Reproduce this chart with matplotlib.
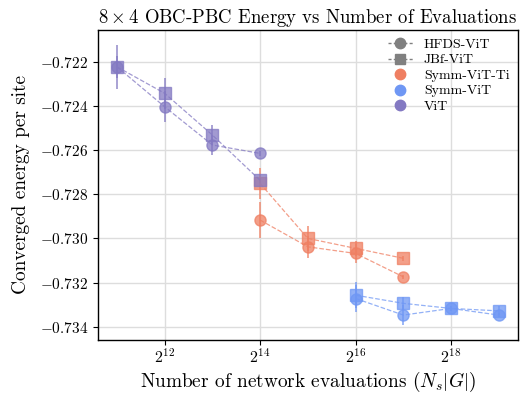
import matplotlib
matplotlib.use("Agg")
import matplotlib.pyplot as plt
from matplotlib.lines import Line2D
from matplotlib.ticker import FuncFormatter, FixedLocator
import numpy as np

plt.rcParams['font.family'] = 'serif'
plt.rcParams['font.serif'] = ['cmr10']
plt.rcParams['mathtext.fontset'] = 'cm'
plt.rcParams['axes.unicode_minus'] = False
plt.rcParams['axes.formatter.use_mathtext'] = True

# data: x given as exponents of 2
models = ["ViT", "Symm-ViT-Ti", "Symm-ViT"]
colors = {"ViT": "#8379c2", "Symm-ViT-Ti": "#ef7f62", "Symm-ViT": "#6f97f4"}
exps = {"ViT": [11, 12, 13, 14], "Symm-ViT-Ti": [14, 15, 16, 17], "Symm-ViT": [16, 17, 18, 19]}

hfds_E = {"ViT": [-0.72223, -0.72404, -0.72577, -0.72615],
          "Symm-ViT-Ti": [-0.72917, -0.73038, -0.73068, -0.73174],
          "Symm-ViT": [-0.73272, -0.73347, -0.73317, -0.73347]}
hfds_err = {"ViT": [0.0010, 0.0007, 0.00045, 0.0001],
            "Symm-ViT-Ti": [0.0008, 0.0005, 0.00045, 0.0001],
            "Symm-ViT": [0.0006, 0.00045, 0.0001, 0.0001]}
jbf_E = {"ViT": [-0.72223, -0.72343, -0.72532, -0.72737],
         "Symm-ViT-Ti": [-0.72751, -0.73000, -0.73045, -0.73090],
         "Symm-ViT": [-0.73257, -0.73294, -0.73317, -0.73328]}
jbf_err = {"ViT": [0.0005, 0.0007, 0.00045, 0.0001],
           "Symm-ViT-Ti": [0.0007, 0.00055, 0.00035, 0.0001],
           "Symm-ViT": [0.0006, 0.0003, 0.0001, 0.0002]}

fig = plt.figure(figsize=(5.29, 3.94), dpi=100)
ax = fig.add_axes([0.185, 0.137, 0.794, 0.787])

for m in ["Symm-ViT-Ti", "Symm-ViT", "ViT"]:
    x = 2.0 ** np.array(exps[m])
    c = colors[m]
    ax.errorbar(x, hfds_E[m], yerr=hfds_err[m], fmt='o', ls='--', lw=0.9, color=c,
                alpha=0.75, ms=8, elinewidth=1.3, capsize=0, zorder=3)
    ax.errorbar(x, jbf_E[m], yerr=jbf_err[m], fmt='s', ls='--', lw=0.9, color=c,
                alpha=0.75, ms=8, elinewidth=1.3, capsize=0, zorder=3)

ax.set_xscale('log', base=2)
ax.xaxis.set_major_locator(FixedLocator([2**12, 2**14, 2**16, 2**18]))
ax.xaxis.set_major_formatter(FuncFormatter(lambda v, p: r"$2^{%d}$" % round(np.log2(v))))
ax.xaxis.set_minor_locator(FixedLocator([]))
ax.set_yticks(np.arange(-0.734, -0.7215, 0.002))
ax.yaxis.set_major_formatter(FuncFormatter(lambda v, p: r"$%.3f$" % v))
ax.set_ylim(-0.7346, -0.72056)
ax.grid(True, color='#dddddd', lw=1.0)
ax.set_axisbelow(True)
ax.tick_params(labelsize=11)
ax.tick_params(axis='x', pad=2, labelsize=11.5)
for s in ax.spines.values():
    s.set_linewidth(1.0)

ax.set_title(r"$8\times4$ OBC-PBC Energy vs Number of Evaluations", fontsize=13.5, pad=5)
ax.set_xlabel(r"Number of network evaluations ($N_s|G|$)", fontsize=13.9, labelpad=3)
ax.set_ylabel("Converged energy per site", fontsize=13.9, labelpad=7)

handles = [
    Line2D([], [], color='gray', marker='o', ls='--', dashes=(2.2, 1.6), lw=1.0, ms=7.5),
    Line2D([], [], color='gray', marker='s', ls='--', dashes=(2.2, 1.6), lw=1.0, ms=7.5),
    Line2D([], [], color=colors["Symm-ViT-Ti"], marker='o', ls='none', ms=7.5),
    Line2D([], [], color=colors["Symm-ViT"], marker='o', ls='none', ms=7.5),
    Line2D([], [], color=colors["ViT"], marker='o', ls='none', ms=7.5),
]
labels = ["HFDS-ViT", "JBf-ViT", "Symm-ViT-Ti", "Symm-ViT", "ViT"]
ax.legend(handles, labels, loc='upper right', frameon=False, fontsize=10,
          handlelength=1.8, handletextpad=0.8, labelspacing=0.2, borderaxespad=0.2)

fig.savefig("out.png", dpi=100)
